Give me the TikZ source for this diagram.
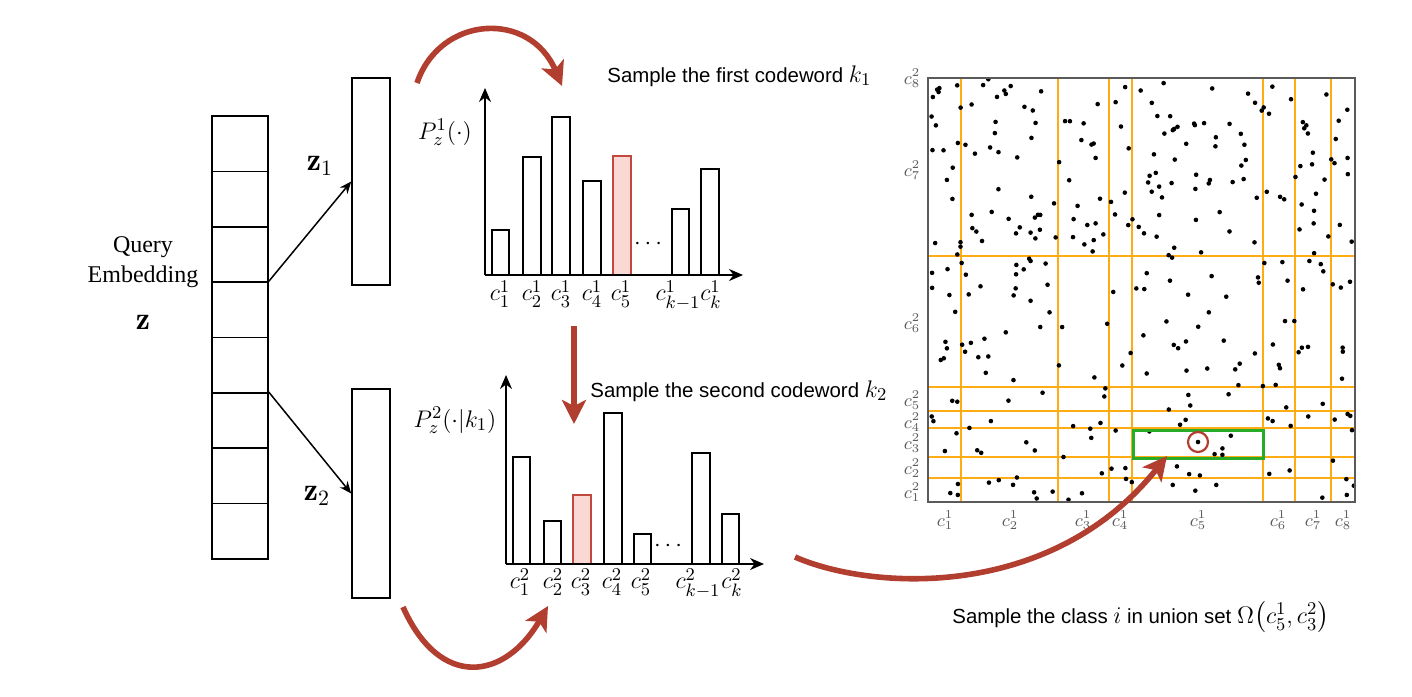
\documentclass[tikz,border=0pt]{standalone}
\usepackage{amsmath, amssymb}
\usepackage{fontspec}
\newfontfamily\sfhelv{Liberation Sans}
\newfontfamily\rmtimes{Liberation Serif}
\usepackage{tikz}
\usetikzlibrary{
  positioning,
  arrows.meta
}
\definecolor{arcred}{RGB}{178,62,48}
\definecolor{barred}{RGB}{192,72,60}
\definecolor{barfill}{RGB}{250,216,212}
\definecolor{gridorange}{RGB}{255,172,20}
\definecolor{boxgreen}{RGB}{40,172,40}
\definecolor{framegray}{RGB}{90,90,90}
\newcommand{\bigmath}[1]{{\fontsize{13}{15}\selectfont$#1$}}

\tikzset{
  cell/.style={draw, line width=0.8pt, minimum width=28pt, minimum height=27.7pt, inner sep=0pt},
  proj/.style={draw, line width=0.8pt, minimum width=19pt, inner sep=0pt},
  bar/.style={draw, line width=0.8pt},
  pickbar/.style={draw=barred, fill=barfill, line width=0.8pt},
  redarc/.style={arcred, line width=2.8pt, -{Stealth[length=12pt,width=12pt,inset=3pt]}},
  axis/.style={line width=0.8pt, -{Stealth[length=7pt,width=6pt]}},
  note/.style={font=\sfhelv\fontsize{10.2}{13}\selectfont, anchor=west, inner sep=0pt},
  lbl/.style={font=\fontsize{13}{15}\selectfont, inner sep=0pt},
  tick/.style={font=\fontsize{9}{10}\selectfont, text=framegray, inner sep=0pt}
}

\begin{document}
\begin{tikzpicture}[x=0.5pt,y=-0.5pt,>={Stealth[length=6pt,width=5pt]}]
    \useasboundingbox (0,0) rectangle (1412,696);

    % query embedding
    \foreach \i in {1,...,8}
        \node[cell] (q\i) at (240,{116+55.375*(\i-0.5)}) {};
    \node[font=\rmtimes\fontsize{12}{15}\selectfont, align=center] (qtext) at (143,262) {Query\\Embedding};
    \node[font=\fontsize{16}{18}\selectfont] (zvec) at (143,322) {$\mathbf{z}$};

    \node[proj, minimum height=103.5pt] (proj1) at (371,181.5) {};
    \node[proj, minimum height=104.5pt] (proj2) at (371,493.5) {};
    \draw[->, line width=0.75pt] (q4.north east) -- (proj1.west);
    \draw[->, line width=0.75pt] (q6.north east) -- (proj2.west);
    \node[font=\fontsize{16}{18}\selectfont] (zone) at (320,166) {$\mathbf{z}_1$};
    \node[font=\fontsize{16}{18}\selectfont] (ztwo) at (317,496) {$\mathbf{z}_2$};

    % first codebook
    \coordinate (o1) at (485,275);
    \coordinate (y1) at (485,88);
    \coordinate (x1) at (743,275);
    \foreach \l/\r/\t in {492/509/230, 523/541/157, 552/570/117, 583/601/181, 672/689/209, 701/719/169}
        \draw[bar] (\l,275) rectangle (\r,\t);
    \draw[pickbar] (613,275) rectangle (631,156);
    \draw[axis] (o1) -- (y1);
    \draw[axis] (o1) -- (x1);
    \node[lbl] (pone) at (445,132) {$P_z^1(\cdot)$};
    \node[lbl] (dotsone) at (650,244) {$\cdots$};
    \foreach \x/\s in {500/1, 532/2, 561/3, 592/4, 621/5, 678/{k-1}, 711/k}
        \node[lbl, anchor=north] at (\x,280) {$c_{\s}^1$};

    % second codebook
    \coordinate (o2) at (506,564);
    \coordinate (y2) at (506,375);
    \coordinate (x2) at (764,564);
    \foreach \l/\r/\t in {513/530/457, 544/561/521, 604/622/413, 634/651/534, 692/710/453, 722/739/514}
        \draw[bar] (\l,564) rectangle (\r,\t);
    \draw[pickbar] (573,564) rectangle (591,495);
    \draw[axis] (o2) -- (y2);
    \draw[axis] (o2) -- (x2);
    \node[lbl] (ptwo) at (455,420) {$P_z^2(\cdot|k_1)$};
    \node[lbl] (dotstwo) at (670,546) {$\cdots$};
    \foreach \x/\s in {520/1, 553/2, 581/3, 612/4, 641/5, 698/{k-1}, 732/k}
        \node[lbl, anchor=north] at (\x,568) {$c_{\s}^2$};

    % sampling steps
    \node[note] (stepone) at (607,76) {Sample the first codeword \bigmath{k_1}};
    \node[note] (steptwo) at (590,391) {Sample the second codeword \bigmath{k_2}};
    \node[note] (stepthree) at (952,617) {Sample the class \bigmath{i} in union set \bigmath{\Omega\big(c_5^1,c_3^2\big)}};

    \coordinate (aone) at (417,83);
    \coordinate (bone) at (562,86);
    \coordinate (adown) at (574,326);
    \coordinate (bdown) at (574,424);
    \coordinate (atwo) at (403,607);
    \coordinate (btwo) at (548,606);
    \coordinate (athree) at (795,557);
    \coordinate (hit) at (1167,456);

    % union grid
    \foreach \x in {961,1058,1109,1132,1263,1295,1331}
        \draw[gridorange, line width=1pt] (\x,78) -- (\x,502);
    \foreach \y in {256,387,411,428,457,478}
        \draw[gridorange, line width=1pt] (928,\y) -- (1355,\y);
    \pgfmathsetseed{42}
    \foreach \n in {1,...,330}{
        \pgfmathsetmacro\dx{929+425*rnd}
        \pgfmathsetmacro\dy{79+422*(rnd^1.15)}
        \fill (\dx,\dy) circle (1.15pt);
    }
    \fill (1198,442) circle (1.15pt);
    \draw[framegray, line width=0.6pt] (928,78) rectangle (1355,502);
    \node[draw=boxgreen, line width=1.5pt, minimum width=65pt, minimum height=14pt, inner sep=0pt] (omega) at (1198,444) {};
    \draw[arcred, line width=1.1pt] (1198,442) circle (5pt);
    \foreach \y/\s in {78/8, 170/7, 323/6, 400/5, 422/4, 443/3, 468/2, 492/1}
        \node[tick] at (912,\y) {$c_{\s}^2$};
    \foreach \x/\s in {945/1, 1010/2, 1083/3, 1120/4, 1198/5, 1278/6, 1313/7, 1343/8}
        \node[tick] at (\x,520) {$c_{\s}^1$};

    \draw[redarc] (aone) .. controls (440,15) and (530,10) .. (bone);
    \draw[redarc] (adown) -- (bdown);
    \draw[redarc] (atwo) .. controls (440,690) and (505,680) .. (btwo);
    \draw[redarc] (athree) .. controls (870,590) and (1050,602) .. (hit);
\end{tikzpicture}
\end{document}
